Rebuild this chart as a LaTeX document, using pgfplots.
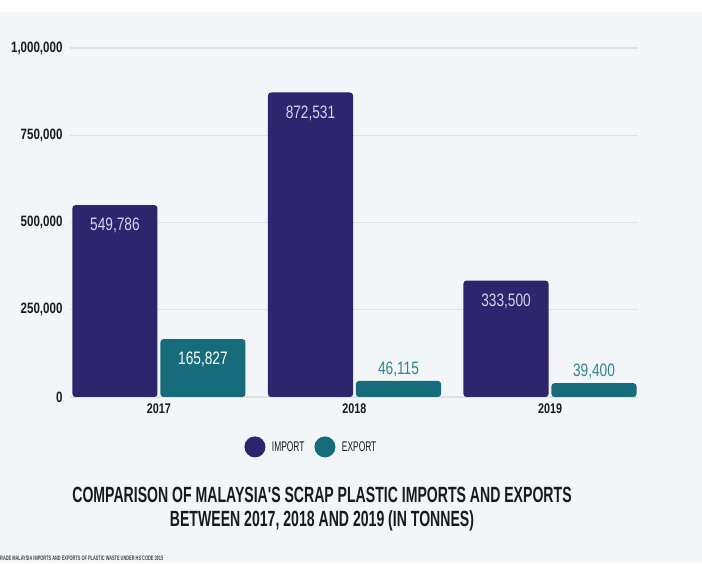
\documentclass[border=0pt]{standalone}
\usepackage{pgfplots}
\pgfplotsset{compat=1.18}
\usepackage{fontspec}
\setmainfont{Liberation Sans}
\newfontfamily\condB{Liberation Sans}[FakeStretch=0.77]
\newfontfamily\condT{Liberation Sans}[FakeStretch=0.64]
\newfontfamily\condV{Liberation Sans}[FakeStretch=0.76]
\newfontfamily\condL{Liberation Sans}[FakeStretch=0.6]
\definecolor{imp}{RGB}{46,37,110}
\definecolor{expc}{RGB}{22,108,122}
\definecolor{bg}{RGB}{243,246,249}
\definecolor{gridc}{RGB}{222,226,231}
\definecolor{implab}{RGB}{215,212,240}
\definecolor{explab}{RGB}{50,130,145}
\definecolor{txt}{RGB}{25,25,30}
\begin{document}
\begin{tikzpicture}
\useasboundingbox (0,0) rectangle (702pt,563pt);
\fill[bg] (0,0) rectangle (702pt,551pt);
\fill[white] (0,551pt) rectangle (702pt,563pt);
\begin{axis}[
  at={(70pt,166pt)}, anchor=south west,
  width=568pt, height=349pt, scale only axis,
  xmin=-0.455, xmax=2.45, ymin=0, ymax=1000000,
  xtick={0,1,2}, xticklabels={2017,2018,2019},
  ytick={0,250000,500000,750000,1000000},
  scaled y ticks=false,
  /pgf/number format/fixed,
  /pgf/number format/precision=0,
  /pgf/number format/1000 sep={,},
  /pgf/number format/assume math mode=true,
  axis line style={draw=none},
  major tick length=0pt,
  ymajorgrids, grid style={gridc, line width=1.2pt},
  y tick label style={font=\condB\bfseries\fontsize{15}{15}\selectfont, text=txt, xshift=-4pt},
  x tick label style={font=\condB\bfseries\fontsize{14}{14}\selectfont, text=txt, yshift=-3pt},
  ybar, bar width=0.435,
  legend columns=2,
  legend style={at={(0.425,-0.143)}, anchor=center, draw=none, fill=none,
    font=\condL\fontsize{14}{14}\selectfont, text=txt,
    /tikz/every even column/.append style={column sep=8pt}},
  clip=false,
]
\addplot[fill=imp, draw=none, rounded corners=3pt, bar shift=-0.225, forget plot,
  nodes near coords,
  nodes near coords style={anchor=north, inner sep=0pt, yshift=-13pt, text=implab,
    font=\condV\fontsize{18}{18}\selectfont}]
  coordinates {(0,549786) (1,872531) (2,333500)};
\addplot[fill=expc, draw=none, rounded corners=3pt, bar shift=0.225, forget plot,
  nodes near coords,
  nodes near coords style={anchor=north, inner sep=0pt, yshift=-13pt, text=white,
    font=\condV\fontsize{18}{18}\selectfont}]
  coordinates {(0,165827)};
\addplot[fill=expc, draw=none, rounded corners=3pt, bar shift=0.225, forget plot,
  nodes near coords,
  nodes near coords style={anchor=south, inner sep=0pt, yshift=4pt, text=explab,
    font=\condV\fontsize{18}{18}\selectfont}]
  coordinates {(1,46115) (2,39400)};
\addlegendimage{legend image code/.code={\fill[imp, draw=none] (0pt,0pt) circle (10.5pt); \path[draw=none, fill=none] (-10.5pt,-10.5pt) rectangle (15pt,10.5pt);}}
\addlegendentry{IMPORT}
\addlegendimage{legend image code/.code={\fill[expc, draw=none] (0pt,0pt) circle (10.5pt); \path[draw=none, fill=none] (-10.5pt,-10.5pt) rectangle (15pt,10.5pt);}}
\addlegendentry{EXPORT}
\end{axis}
\node[align=center, text=txt, font=\condT\bfseries\fontsize{22}{24}\selectfont] at (322pt,54pt)
  {COMPARISON OF MALAYSIA'S SCRAP PLASTIC IMPORTS AND EXPORTS\\BETWEEN 2017, 2018 AND 2019 (IN TONNES)};
\node[anchor=west, inner sep=0pt, text=black!75, font=\condL\bfseries\fontsize{6.5}{6.5}\selectfont] at (0pt,5pt)
  {RADE MALAYSIA IMPORTS AND EXPORTS OF PLASTIC WASTE UNDER HS CODE 3915};
\end{tikzpicture}
\end{document}
